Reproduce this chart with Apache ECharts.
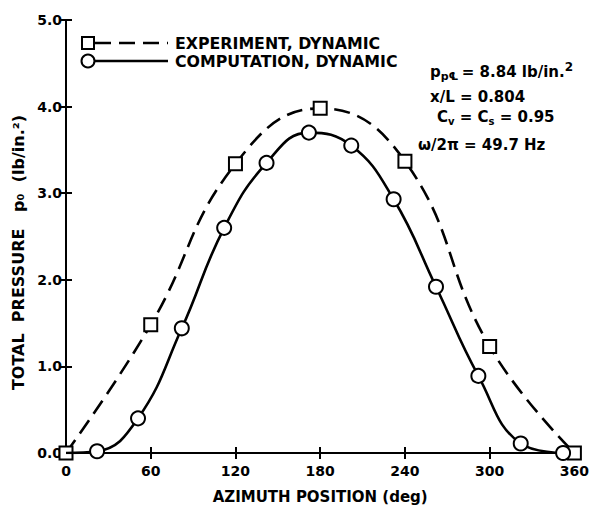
<!DOCTYPE html>
<html><head><meta charset="utf-8">
<script src="https://cdn.jsdelivr.net/npm/echarts@6/dist/echarts.min.js"></script>
<style>html,body{margin:0;padding:0;background:#fff}#c{width:592px;height:509px}</style>
</head><body><div id="c"></div>
<script>
// Data
var expAzimuth = [0, 60, 120, 180, 240, 300, 360];
var expPressure = [0.0, 1.48, 3.34, 3.98, 3.37, 1.23, 0.0];
var compAzimuth = [0, 22, 51, 82, 112, 142, 172, 202, 232, 262, 292, 322, 352];
var compPressure = [0.0, 0.02, 0.4, 1.44, 2.6, 3.35, 3.7, 3.55, 2.93, 1.92, 0.89, 0.11, 0.0];
var xTicks = [0, 60, 120, 180, 240, 300, 360];
var yTicks = [0.0, 1.0, 2.0, 3.0, 4.0, 5.0];
var legendNames = ['EXPERIMENT, DYNAMIC', 'COMPUTATION, DYNAMIC'];

var FONT = '"DejaVu Sans", "Liberation Sans", Arial, sans-serif';
var expData = expAzimuth.map(function (x, i) { return [x, expPressure[i]]; });
var compData = compAzimuth.map(function (x, i) {
  var d = { value: [x, compPressure[i]] };
  if (i === 0) d.symbol = 'none';
  return d;
});

var chart = echarts.init(document.getElementById('c'), null, { renderer: 'svg' });
var axisLine = { show: true, lineStyle: { color: '#000', width: 2 } };
var tick = { show: true, inside: true, length: 6, lineStyle: { color: '#000', width: 2 } };
chart.setOption({
  animation: false,
  backgroundColor: '#fff',
  grid: { left: 66, right: 13, top: 20, bottom: 51 },
  xAxis: [{
    type: 'value', min: xTicks[0], max: xTicks[xTicks.length - 1], interval: 60,
    axisLine: axisLine, axisTick: tick, splitLine: { show: false },
    axisLabel: { color: '#000', fontFamily: FONT, fontWeight: 'bold', fontSize: 14, margin: 11 },
    name: 'AZIMUTH POSITION (deg)', nameLocation: 'middle', nameGap: 36,
    nameTextStyle: { color: '#000', fontFamily: FONT, fontWeight: 'bold', fontSize: 15 }
  }, {
    type: 'value', position: 'top', min: 0, max: 360, interval: 60,
    axisLine: axisLine, axisTick: tick, axisLabel: { show: false }, splitLine: { show: false }
  }],
  yAxis: [{
    type: 'value', min: yTicks[0], max: yTicks[yTicks.length - 1], interval: 1,
    axisLine: axisLine, axisTick: tick, splitLine: { show: false },
    axisLabel: { color: '#000', fontFamily: FONT, fontWeight: 'bold', fontSize: 14, margin: 4,
      formatter: function (v) { return v.toFixed(1); } },
    name: 'TOTAL  PRESSURE   p\u2080  (lb/in.\u00b2)', nameLocation: 'middle', nameGap: 27,
    nameTextStyle: { color: '#000', fontFamily: FONT, fontWeight: 'bold', fontSize: 16, padding: [0, 32, 0, 0] }
  }, {
    type: 'value', position: 'right', min: 0, max: 5, interval: 1,
    axisLine: axisLine, axisTick: tick, axisLabel: { show: false }, splitLine: { show: false }
  }],
  series: [{
    name: legendNames[0], type: 'line', data: expData, smooth: 0.45,
    symbol: 'rect', symbolSize: 13, showAllSymbol: true, z: 3,
    lineStyle: { color: '#000', width: 2.6, type: [16, 8] },
    itemStyle: { color: '#fff', borderColor: '#000', borderWidth: 2 }
  }, {
    name: legendNames[1], type: 'line', data: compData, smooth: 0.45,
    symbol: 'circle', symbolSize: 14, showAllSymbol: true, z: 4,
    lineStyle: { color: '#000', width: 2.6 },
    itemStyle: { color: '#fff', borderColor: '#000', borderWidth: 2 }
  }],
  graphic: [
    { type: 'line', shape: { x1: 95, y1: 43, x2: 168, y2: 43 }, style: { stroke: '#000', lineWidth: 2.6, lineDash: [16, 8] } },
    { type: 'rect', shape: { x: 82, y: 37, width: 12, height: 12 }, style: { fill: '#fff', stroke: '#000', lineWidth: 2 } },
    { type: 'text', x: 175, y: 43, style: { text: legendNames[0], fill: '#000', font: 'bold 15.8px ' + FONT, textVerticalAlign: 'middle' } },
    { type: 'line', shape: { x1: 94, y1: 61, x2: 168, y2: 61 }, style: { stroke: '#000', lineWidth: 2.6 } },
    { type: 'circle', shape: { cx: 88, cy: 61, r: 6.5 }, style: { fill: '#fff', stroke: '#000', lineWidth: 2 } },
    { type: 'text', x: 175, y: 61, style: { text: legendNames[1], fill: '#000', font: 'bold 15.8px ' + FONT, textVerticalAlign: 'middle' } },
    { type: 'text', x: 430, y: 72, style: {
        text: '{n|p}{s|p\u2104} {n|= 8.84 lb/in.}{sup|2}', textVerticalAlign: 'middle',
        rich: { n: { font: 'bold 15px ' + FONT, fill: '#000' },
                s: { font: 'bold 11px ' + FONT, fill: '#000', padding: [8, 0, 0, 0] },
                sup: { font: 'bold 12px ' + FONT, fill: '#000', padding: [0, 0, 10, 0] } } } },
    { type: 'text', x: 430, y: 97, style: { text: 'x/L = 0.804', fill: '#000', font: 'bold 15px ' + FONT, textVerticalAlign: 'middle' } },
    { type: 'text', x: 437, y: 117, style: {
        text: '{n|C}{s|v}{n| = C}{s|s}{n| = 0.95}', textVerticalAlign: 'middle',
        rich: { n: { font: 'bold 15px ' + FONT, fill: '#000' },
                s: { font: 'bold 10px ' + FONT, fill: '#000', padding: [8, 0, 0, 0] } } } },
    { type: 'text', x: 418, y: 145, style: { text: '\u03c9/2\u03c0 = 49.7 Hz', fill: '#000', font: 'bold 15px ' + FONT, textVerticalAlign: 'middle' } }
  ]
});
</script></body></html>
